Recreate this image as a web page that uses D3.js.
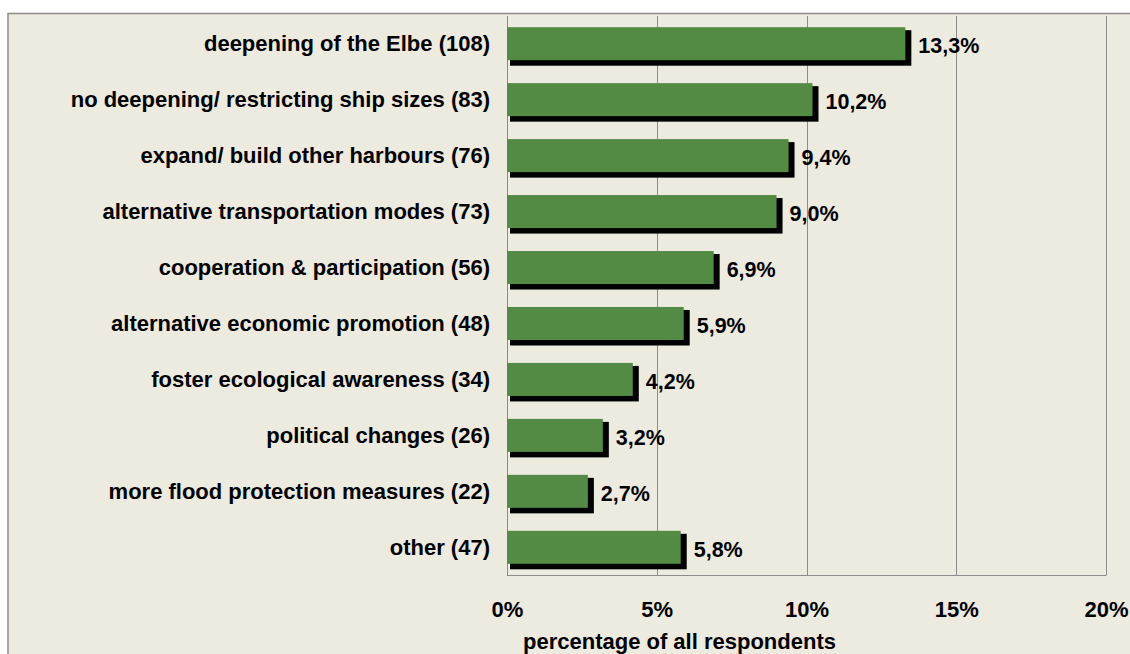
<!DOCTYPE html>
<html>
<head>
<meta charset="utf-8">
<script src="https://cdn.jsdelivr.net/npm/d3@7"></script>
<style>
  html, body { margin: 0; padding: 0; background: #ffffff; }
  svg { display: block; }
  text { font-family: "Liberation Sans", Arial, sans-serif; font-weight: bold; fill: #000; }
</style>
</head>
<body>
<svg id="chart" width="1130" height="654"></svg>
<script>
// Suggested measures and share of respondents naming each
const categories = [
  "deepening of the Elbe (108)",
  "no deepening/ restricting ship sizes (83)",
  "expand/ build other harbours (76)",
  "alternative transportation modes (73)",
  "cooperation & participation (56)",
  "alternative economic promotion (48)",
  "foster ecological awareness (34)",
  "political changes (26)",
  "more flood protection measures (22)",
  "other (47)"
];
const shares = [13.3, 10.2, 9.4, 9.0, 6.9, 5.9, 4.2, 3.2, 2.7, 5.8];
const valueLabels = ["13,3%", "10,2%", "9,4%", "9,0%", "6,9%", "5,9%", "4,2%", "3,2%", "2,7%", "5,8%"];
const tickValues = [0, 5, 10, 15, 20];
const tickLabels = ["0%", "5%", "10%", "15%", "20%"];
const axisTitle = "percentage of all respondents";

const svg = d3.select("#chart");
const W = 1130, H = 654;

// Beige chart frame with grey border
svg.append("rect").attr("x", 0).attr("y", 0).attr("width", W).attr("height", H).attr("fill", "#ffffff");
svg.append("rect")
  .attr("x", 8).attr("y", 13.5).attr("width", W).attr("height", H)
  .attr("fill", "#EDEAE0").attr("stroke", "#8c8c8c").attr("stroke-width", 1.5);

const plot = { left: 507, right: 1106, top: 16, bottom: 575 };

const x = d3.scaleLinear().domain([0, 20]).range([plot.left, plot.right]);
const y = d3.scaleBand().domain(categories).range([plot.top, plot.bottom]).paddingInner(0.41).paddingOuter(0.2);

// Vertical gridlines
svg.append("g").selectAll("line").data(tickValues).join("line")
  .attr("x1", d => Math.round(x(d)) + 0.5).attr("x2", d => Math.round(x(d)) + 0.5)
  .attr("y1", plot.top).attr("y2", plot.bottom)
  .attr("stroke", "#8c8c8c").attr("stroke-width", 1);

// Bottom edge of the plot area
svg.append("line")
  .attr("x1", plot.left).attr("x2", Math.round(x(20)) + 0.5)
  .attr("y1", plot.bottom + 0.5).attr("y2", plot.bottom + 0.5)
  .attr("stroke", "#8c8c8c").attr("stroke-width", 1);

// Bars with a black drop shadow
const bars = svg.append("g");
bars.selectAll("rect.shadow").data(shares).join("rect")
  .attr("class", "shadow")
  .attr("x", x(0) + 3)
  .attr("y", (d, i) => y(categories[i]) + 3)
  .attr("width", d => x(d) - x(0) + 3)
  .attr("height", y.bandwidth() + 2.5)
  .attr("fill", "#000");
bars.selectAll("rect.bar").data(shares).join("rect")
  .attr("class", "bar")
  .attr("x", x(0))
  .attr("y", (d, i) => y(categories[i]))
  .attr("width", d => x(d) - x(0))
  .attr("height", y.bandwidth())
  .attr("fill", "#538B45");

// Value labels
svg.append("g").selectAll("text").data(shares).join("text")
  .attr("x", d => x(d) + 13)
  .attr("y", (d, i) => y(categories[i]) + y.bandwidth() / 2 + 2)
  .attr("dy", "0.35em")
  .attr("font-size", 21.5)
  .text((d, i) => valueLabels[i]);

// Category labels
svg.append("g").selectAll("text").data(categories).join("text")
  .attr("x", 490)
  .attr("y", d => y(d) + y.bandwidth() / 2)
  .attr("dy", "0.35em")
  .attr("text-anchor", "end")
  .attr("font-size", 22)
  .text(d => d);

// X axis tick labels
const xAxis = d3.axisBottom(x).tickValues(tickValues).tickFormat((d, i) => tickLabels[i]).tickSize(0).tickPadding(0);
const ax = svg.append("g").attr("transform", "translate(0,601)").call(xAxis);
ax.select(".domain").remove();
ax.selectAll("text").attr("font-size", 22).attr("fill", "#000")
  .attr("font-family", "Liberation Sans, Arial, sans-serif").attr("font-weight", "bold");

// Axis title
svg.append("text")
  .attr("x", 523).attr("y", 649)
  .attr("font-size", 22)
  .text(axisTitle);
</script>
</body>
</html>
